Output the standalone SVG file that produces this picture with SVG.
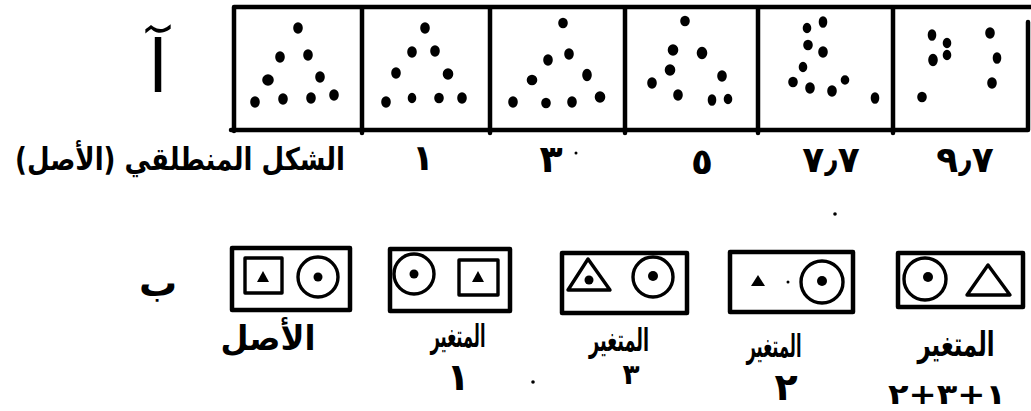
<svg xmlns="http://www.w3.org/2000/svg" width="1031" height="411" viewBox="0 0 1031 411">
<style>
.ln{fill:none;stroke:#000;stroke-width:4.5;stroke-linecap:round;stroke-linejoin:round}
.sh{fill:none;stroke:#000;stroke-width:3.4;stroke-linejoin:round}
.fd{fill:#000}
.dt ellipse{fill:#000;stroke:#000;stroke-width:2.6}
.ar{font-family:"DejaVu Sans",sans-serif;font-weight:bold;fill:#000;text-anchor:middle}
.thin{font-weight:normal}
</style>
<rect width="1031" height="411" fill="#fff"/>
<g id="label-a"><text class="ar thin" x="158" y="92" font-size="72">آ</text></g>
<g id="strip">
<path class="ln" d="M234 7H1031M234 7V131M231 130H1028M1028 22V130"/>
<path class="ln" d="M362 8V133M490 8V133M625 8V133M758 8V133M893 8V133"/>
</g>
<g id="cell-origin" class="dt">
<ellipse cx="298" cy="28" rx="3.5" ry="4.5"/><ellipse cx="280" cy="57" rx="3.5" ry="4.5"/><ellipse cx="308" cy="55" rx="3.5" ry="4.5"/>
<ellipse cx="268" cy="80" rx="4.5" ry="4.5"/><ellipse cx="320" cy="77" rx="3.5" ry="4.5"/>
<ellipse cx="255" cy="102" rx="3.5" ry="4.5"/><ellipse cx="283" cy="99" rx="3.5" ry="4.5"/><ellipse cx="311" cy="98" rx="3.5" ry="4.5"/><ellipse cx="334" cy="95" rx="3.5" ry="4.5"/>
</g>
<g id="cell-1" class="dt">
<ellipse cx="425" cy="28" rx="3.5" ry="4.5"/><ellipse cx="412" cy="52" rx="3.5" ry="4.5"/><ellipse cx="435" cy="51" rx="3.5" ry="4.5"/>
<ellipse cx="396" cy="73" rx="3.5" ry="4.5"/><ellipse cx="448" cy="74" rx="4" ry="4.5"/>
<ellipse cx="386" cy="102" rx="3.5" ry="4.5"/><ellipse cx="412" cy="98" rx="3" ry="4"/><ellipse cx="439" cy="98" rx="3.5" ry="4"/><ellipse cx="462" cy="98" rx="3.5" ry="4.5"/>
</g>
<g id="cell-3" class="dt">
<ellipse cx="563" cy="23" rx="3.5" ry="4"/><ellipse cx="548" cy="60" rx="3.5" ry="4.5"/><ellipse cx="569" cy="54" rx="3.5" ry="4.5"/>
<ellipse cx="532" cy="80" rx="4" ry="4"/><ellipse cx="587" cy="75" rx="3.5" ry="5"/>
<ellipse cx="513" cy="102" rx="3.5" ry="4.5"/><ellipse cx="546" cy="103" rx="3.5" ry="4"/><ellipse cx="572" cy="102" rx="3.5" ry="4.5"/><ellipse cx="600" cy="97" rx="4" ry="4.5"/>
</g>
<g id="cell-5" class="dt">
<ellipse cx="685" cy="21" rx="3.5" ry="4"/><ellipse cx="673" cy="50" rx="4" ry="4.5"/><ellipse cx="702" cy="53" rx="4" ry="5"/>
<ellipse cx="670" cy="70" rx="4" ry="4.5"/><ellipse cx="722" cy="76" rx="3.5" ry="4.5"/>
<ellipse cx="652" cy="83" rx="3.5" ry="4.5"/><ellipse cx="678" cy="95" rx="3.5" ry="4.5"/><ellipse cx="712" cy="100" rx="3" ry="4.5"/><ellipse cx="728" cy="99" rx="3" ry="4"/>
</g>
<g id="cell-6-7" class="dt">
<ellipse cx="823" cy="22" rx="3" ry="4.5"/><ellipse cx="807" cy="28" rx="3" ry="4"/><ellipse cx="808" cy="45" rx="3.5" ry="4"/><ellipse cx="823" cy="52" rx="3.5" ry="4.5"/>
<ellipse cx="803" cy="67" rx="3" ry="4"/><ellipse cx="793" cy="82" rx="3.5" ry="4"/><ellipse cx="810" cy="88" rx="3.5" ry="4.5"/><ellipse cx="832" cy="91" rx="3.5" ry="4.5"/>
<ellipse cx="845" cy="80" rx="3" ry="3.5"/><ellipse cx="875" cy="98" rx="3" ry="4.5"/>
</g>
<g id="cell-7-9" class="dt">
<ellipse cx="932" cy="35" rx="3" ry="4.5"/><ellipse cx="947" cy="43" rx="3" ry="4"/><ellipse cx="933" cy="60" rx="3.5" ry="5"/><ellipse cx="947" cy="55" rx="3" ry="4"/>
<ellipse cx="990" cy="33" rx="3.5" ry="4.5"/><ellipse cx="997" cy="58" rx="3" ry="4.5"/><ellipse cx="992" cy="83" rx="3.5" ry="4.5"/><ellipse cx="922" cy="97" rx="3.5" ry="4"/>
</g>
<g id="top-labels">
<text class="ar" transform="translate(180,170) scale(1,1.35)" x="0" y="0" font-size="23" textLength="330" lengthAdjust="spacingAndGlyphs">الشكل المنطلقي (الأصل)</text>
<text class="ar" x="423" y="170" font-size="36">١</text>
<text class="ar" x="551" y="172" font-size="38">٣</text>
<text class="ar" x="702" y="174" font-size="36">٥</text>
<text class="ar" x="831" y="172" font-size="36">٧٫٧</text>
<text class="ar" x="965" y="172" font-size="36">٩٫٧</text>
</g>
<g id="label-b"><text class="ar" x="158" y="296" font-size="38">ب</text></g>
<g id="box-origin">
<rect class="ln" x="232" y="248" width="118" height="62"/>
<rect class="sh" x="245" y="258" width="37" height="35"/>
<polygon class="fd" points="257,282 263,271 269,282"/>
<circle class="sh" cx="318" cy="277" r="20"/><circle class="fd" cx="318" cy="277" r="4.5"/>
<text class="ar" x="268" y="350" font-size="34" textLength="95" lengthAdjust="spacingAndGlyphs">الأصل</text>
</g>
<g id="box-var1">
<rect class="ln" x="390" y="249" width="120" height="62"/>
<circle class="sh" cx="414" cy="274" r="20"/><circle class="fd" cx="414" cy="274" r="4.5"/>
<rect class="sh" x="459" y="260" width="39" height="35"/>
<polygon class="fd" points="472,282 478,271 484,282"/>
<text class="ar" x="458" y="347" font-size="32" textLength="55" lengthAdjust="spacingAndGlyphs">المتغير</text>
<text class="ar" x="458" y="390" font-size="38">١</text>
</g>
<g id="box-var3">
<rect class="ln" x="562" y="253" width="125" height="60"/>
<polygon class="sh" points="568,290 588,259 610,290"/><circle class="fd" cx="589" cy="280" r="4.5"/>
<circle class="sh" cx="653" cy="277" r="20"/><circle class="fd" cx="653" cy="276" r="5"/>
<text class="ar" x="619" y="351" font-size="32" textLength="60" lengthAdjust="spacingAndGlyphs">المتغير</text>
<text class="ar" x="631" y="384" font-size="28">٣</text>
</g>
<g id="box-var2">
<rect class="ln" x="730" y="252" width="123" height="60"/>
<polygon class="fd" points="751,286 758,275 765,286"/>
<circle class="fd" cx="788" cy="282" r="1.5"/>
<circle class="sh" cx="822" cy="282" r="21"/><circle class="fd" cx="822" cy="281" r="5"/>
<text class="ar" x="774" y="357" font-size="32" textLength="55" lengthAdjust="spacingAndGlyphs">المتغير</text>
<text class="ar" x="786" y="400" font-size="38">٢</text>
</g>
<g id="box-var123">
<rect class="ln" x="898" y="253" width="125" height="54"/>
<circle class="sh" cx="925" cy="279" r="21"/><circle class="fd" cx="928" cy="277" r="5"/>
<polygon class="sh" points="967,295 988,265 1010,295"/>
<text class="ar" x="956" y="356" font-size="34" textLength="77" lengthAdjust="spacingAndGlyphs">المتغير</text>
<text class="ar" x="947" y="404" font-size="28" textLength="118" lengthAdjust="spacingAndGlyphs">١+٣+٢</text>
</g>
<g id="specks" class="fd">
<circle cx="835" cy="214" r="1.8"/><circle cx="533" cy="382" r="1.8"/><circle cx="576" cy="153" r="1.5"/>
</g>
</svg>
